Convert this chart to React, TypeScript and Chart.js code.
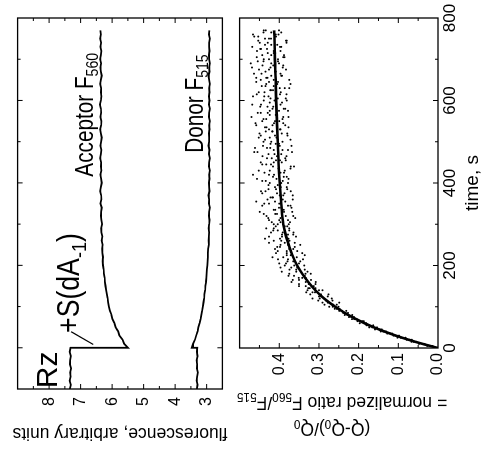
import React, { useEffect, useRef } from "react";
import { Chart, registerables } from "chart.js";

Chart.register(...registerables);

const FONT = "'Liberation Sans', Arial, Helvetica, sans-serif";

// ---------- upper panel: fluorescence traces ----------
const fluorTimes = [
  -100, -90, -80, -70, -60, -50, -40, -30, -20, -10, 0, 0,
  10, 20, 30, 40, 50, 60, 70, 80, 90, 100,
  110, 120, 130, 140, 150, 160, 170, 180, 190, 200,
  210, 220, 230, 240, 250, 260, 270, 280, 290, 300,
  310, 320, 330, 340, 350, 360, 370, 380, 390, 400,
  410, 420, 430, 440, 450, 460, 470, 480, 490, 500,
  510, 520, 530, 540, 550, 560, 570, 580, 590, 600,
  610, 620, 630, 640, 650, 660, 670, 680, 690, 700,
  710, 720, 730, 740, 750, 760, 770,
];
const acceptorValues = [
  7.34, 7.31, 7.35, 7.32, 7.33, 7.3, 7.34, 7.33, 7.31, 7.35, 7.32, 5.5,
  5.62, 5.67, 5.77, 5.81, 5.89, 5.93, 5.99, 6.02, 6.07, 6.1,
  6.13, 6.14, 6.17, 6.19, 6.21, 6.23, 6.24, 6.26, 6.27, 6.29,
  6.3, 6.29, 6.31, 6.32, 6.3, 6.33, 6.31, 6.34, 6.35, 6.32,
  6.34, 6.36, 6.35, 6.33, 6.37, 6.34, 6.35, 6.38, 6.36, 6.33,
  6.35, 6.37, 6.34, 6.36, 6.35, 6.38, 6.36, 6.34, 6.37, 6.35,
  6.33, 6.36, 6.38, 6.35, 6.34, 6.37, 6.35, 6.36, 6.39, 6.36,
  6.34, 6.36, 6.35, 6.38, 6.36, 6.33, 6.36, 6.37, 6.35, 6.38,
  6.36, 6.34, 6.37, 6.35, 6.38, 6.36, 6.37,
];
const donorValues = [
  3.31, 3.29, 3.32, 3.3, 3.28, 3.31, 3.3, 3.32, 3.29, 3.31, 3.3, 3.47,
  3.43, 3.37, 3.33, 3.29, 3.26, 3.22, 3.19, 3.17, 3.14, 3.12,
  3.1, 3.08, 3.07, 3.05, 3.04, 3.02, 3.01, 3.0, 2.99, 2.98,
  2.97, 2.96, 2.96, 2.95, 2.93, 2.94, 2.93, 2.92, 2.94, 2.92,
  2.91, 2.93, 2.92, 2.9, 2.93, 2.92, 2.94, 2.91, 2.92, 2.93,
  2.91, 2.92, 2.9, 2.93, 2.92, 2.9, 2.93, 2.91, 2.94, 2.92,
  2.92, 2.93, 2.91, 2.92, 2.9, 2.93, 2.92, 2.9, 2.93, 2.91,
  2.93, 2.91, 2.92, 2.9, 2.92, 2.94, 2.91, 2.92, 2.9, 2.92,
  2.93, 2.91, 2.92, 2.92, 2.9, 2.93, 2.91,
];
const fluorValueLabels = [3, 4, 5, 6, 7, 8];
const fluorValueMinor = [3.5, 4.5, 5.5, 6.5, 7.5, 8.5];
const fluorTimeMajor = [0, 200, 400, 600];
const fluorTimeMinor = [100, 300, 500, 700];

// ---------- lower panel: normalized ratio ----------
const ratioTimes = [
  0, 5, 10, 15, 20, 25, 30, 35, 40, 45,
  50, 55, 60, 65, 70, 75, 80, 85, 90, 95,
  100, 105, 110, 115, 120, 125, 130, 135, 140, 145,
  150, 155, 160, 165, 170, 175, 180, 185, 190, 195,
  200, 205, 210, 215, 220, 225, 230, 235, 240, 245,
  250, 255, 260, 265, 270, 275, 280, 285, 290, 295,
  300, 305, 310, 315, 320, 325, 330, 335, 340, 345,
  350, 355, 360, 365, 370, 375, 380, 385, 390, 395,
  400, 405, 410, 415, 420, 425, 430, 435, 440, 445,
  450, 455, 460, 465, 470, 475, 480, 485, 490, 495,
  500, 505, 510, 515, 520, 525, 530, 535, 540, 545,
  550, 555, 560, 565, 570, 575, 580, 585, 590, 595,
  600, 605, 610, 615, 620, 625, 630, 635, 640, 645,
  650, 655, 660, 665, 670, 675, 680, 685, 690, 695,
  700, 705, 710, 715, 720, 725, 730, 735, 740, 745,
  750, 755, 760, 765, 770,
];
const ratioA = [
  0.003, 0.014, 0.048, 0.055, 0.079, 0.082, 0.107, 0.128, 0.131, 0.159,
  0.154, 0.176, 0.197, 0.191, 0.205, 0.224, 0.216, 0.239, 0.249, 0.248,
  0.274, 0.255, 0.278, 0.302, 0.268, 0.3, 0.295, 0.332, 0.3, 0.327,
  0.35, 0.309, 0.333, 0.35, 0.333, 0.377, 0.321, 0.357, 0.374, 0.355,
  0.337, 0.383, 0.365, 0.403, 0.356, 0.381, 0.342, 0.404, 0.375, 0.361,
  0.397, 0.426, 0.374, 0.398, 0.358, 0.393, 0.421, 0.375, 0.414, 0.386,
  0.404, 0.373, 0.426, 0.397, 0.384, 0.439, 0.367, 0.41, 0.395, 0.378,
  0.426, 0.458, 0.391, 0.418, 0.366, 0.406, 0.435, 0.38, 0.411, 0.399,
  0.378, 0.443, 0.407, 0.389, 0.426, 0.397, 0.452, 0.372, 0.416, 0.433,
  0.394, 0.408, 0.385, 0.442, 0.427, 0.368, 0.414, 0.461, 0.399, 0.422,
  0.392, 0.436, 0.407, 0.379, 0.45, 0.418, 0.398, 0.432, 0.385, 0.413,
  0.443, 0.392, 0.47, 0.405, 0.429, 0.378, 0.417, 0.448, 0.397, 0.424,
  0.412, 0.384, 0.438, 0.457, 0.396, 0.423, 0.375, 0.414, 0.433, 0.403,
  0.447, 0.43, 0.393, 0.464, 0.411, 0.383, 0.422, 0.442, 0.401, 0.454,
  0.439, 0.39, 0.42, 0.414, 0.397, 0.446, 0.468, 0.405, 0.429, 0.381,
  0.436, 0.453, 0.402, 0.42, 0.439,
];
const ratioB = [
  0.001, 0.027, 0.038, 0.067, 0.066, 0.094, 0.112, 0.115, 0.144, 0.147,
  0.166, 0.163, 0.185, 0.203, 0.217, 0.212, 0.228, 0.227, 0.242, 0.26,
  0.251, 0.286, 0.249, 0.282, 0.298, 0.278, 0.322, 0.31, 0.291, 0.323,
  0.313, 0.35, 0.369, 0.32, 0.351, 0.336, 0.375, 0.329, 0.357, 0.397,
  0.386, 0.35, 0.379, 0.34, 0.417, 0.371, 0.381, 0.355, 0.411, 0.398,
  0.347, 0.386, 0.395, 0.377, 0.426, 0.365, 0.391, 0.415, 0.375, 0.409,
  0.376, 0.419, 0.4, 0.36, 0.432, 0.406, 0.388, 0.414, 0.369, 0.443,
  0.4, 0.385, 0.43, 0.416, 0.39, 0.443, 0.371, 0.408, 0.396, 0.427,
  0.424, 0.391, 0.456, 0.381, 0.413, 0.437, 0.386, 0.402, 0.371, 0.421,
  0.447, 0.398, 0.419, 0.382, 0.412, 0.463, 0.392, 0.431, 0.369, 0.409,
  0.44, 0.403, 0.424, 0.447, 0.38, 0.417, 0.397, 0.436, 0.458, 0.39,
  0.411, 0.433, 0.377, 0.424, 0.454, 0.401, 0.389, 0.43, 0.446, 0.408,
  0.381, 0.422, 0.466, 0.398, 0.437, 0.416, 0.386, 0.444, 0.405, 0.426,
  0.375, 0.458, 0.42, 0.397, 0.435, 0.451, 0.391, 0.415, 0.472, 0.403,
  0.426, 0.387, 0.443, 0.41, 0.456, 0.431, 0.395, 0.42, 0.449, 0.383,
  0.426, 0.463, 0.409, 0.44, 0.401,
];
const ratioC = [
  0.008, 0.021, 0.034, 0.061, 0.071, 0.102, 0.098, 0.12, 0.138, 0.142,
  0.173, 0.18, 0.181, 0.187, 0.211, 0.218, 0.235, 0.233, 0.231, 0.255,
  0.265, 0.264, 0.291, 0.266, 0.316, 0.294, 0.276, 0.316, 0.329, 0.309,
  0.333, 0.326, 0.308, 0.366, 0.342, 0.363, 0.334, 0.394, 0.336, 0.37,
  0.362, 0.4, 0.347, 0.378, 0.39, 0.336, 0.408, 0.381, 0.365, 0.405,
  0.378, 0.361, 0.414, 0.436, 0.393, 0.378, 0.364, 0.404, 0.433, 0.38,
  0.414, 0.397, 0.378, 0.428, 0.365, 0.41, 0.449, 0.389, 0.401, 0.372,
  0.438, 0.411, 0.366, 0.422, 0.399, 0.387, 0.446, 0.427, 0.381, 0.404,
  0.395, 0.434, 0.377, 0.416, 0.466, 0.388, 0.424, 0.401, 0.363, 0.443,
  0.414, 0.384, 0.431, 0.406, 0.395, 0.455, 0.378, 0.423, 0.441, 0.401,
  0.42, 0.372, 0.452, 0.411, 0.394, 0.434, 0.426, 0.377, 0.417, 0.46,
  0.4, 0.44, 0.39, 0.409, 0.447, 0.424, 0.385, 0.415, 0.468, 0.393,
  0.439, 0.404, 0.427, 0.382, 0.452, 0.421, 0.399, 0.435, 0.372, 0.458,
  0.414, 0.433, 0.395, 0.445, 0.409, 0.426, 0.469, 0.39, 0.42, 0.44,
  0.403, 0.457, 0.388, 0.429, 0.414, 0.448, 0.398, 0.436, 0.382, 0.453,
  0.421, 0.408, 0.466, 0.395, 0.434,
];
const fitTimes = [0, 10, 20, 30, 40, 50, 60, 70, 80, 90, 100, 120, 140, 160, 180, 200, 225, 250, 275, 300, 350, 400, 450, 500, 550, 600, 650, 700, 750, 770];
const fitValues = [0, 0.039, 0.074, 0.106, 0.135, 0.161, 0.185, 0.206, 0.226, 0.243, 0.259, 0.287, 0.309, 0.327, 0.342, 0.355, 0.367, 0.376, 0.384, 0.39, 0.395, 0.399, 0.402, 0.404, 0.406, 0.408, 0.409, 0.411, 0.412, 0.413];
const ratioValueLabels = [0, 0.1, 0.2, 0.3, 0.4];
const ratioValueMajor = [0.1, 0.2, 0.3, 0.4];
const ratioValueMinor = [0.05, 0.15, 0.25, 0.35, 0.45];
const ratioTimeLabels = [0, 200, 400, 600, 800];
const ratioTimeMajor = [200, 400, 600];
const ratioTimeMinor = [100, 300, 500, 700];

type Seg = { t: string; sub?: boolean };

function drawRich(
  ctx: CanvasRenderingContext2D,
  segs: Seg[],
  x: number,
  y: number,
  size: number,
  align: "left" | "center",
  rotate: boolean,
  scaleX = 1
) {
  ctx.save();
  ctx.translate(x, y);
  if (rotate) ctx.rotate(-Math.PI / 2);
  ctx.scale(scaleX, 1);
  const subSize = size * 0.68;
  let w = 0;
  for (const s of segs) {
    ctx.font = `${s.sub ? subSize : size}px ${FONT}`;
    w += ctx.measureText(s.t).width;
  }
  let cx = align === "center" ? -w / 2 : 0;
  ctx.fillStyle = "#000";
  ctx.textAlign = "left";
  ctx.textBaseline = "alphabetic";
  for (const s of segs) {
    ctx.font = `${s.sub ? subSize : size}px ${FONT}`;
    ctx.fillText(s.t, cx, s.sub ? size * 0.2 : 0);
    cx += ctx.measureText(s.t).width;
  }
  ctx.restore();
}

function frameTicks(xMajor: number[], xMinor: number[], yMajor: number[], yMinor: number[]) {
  return {
    id: "frameTicks",
    afterDatasetsDraw(chart: any) {
      const { ctx, chartArea: a, scales } = chart;
      ctx.save();
      ctx.strokeStyle = "#000";
      ctx.lineWidth = 1.3;
      ctx.strokeRect(a.left, a.top, a.right - a.left, a.bottom - a.top);
      ctx.lineWidth = 1;
      const seg = (x1: number, y1: number, x2: number, y2: number) => {
        ctx.beginPath();
        ctx.moveTo(x1, y1);
        ctx.lineTo(x2, y2);
        ctx.stroke();
      };
      const xt = (vals: number[], len: number) =>
        vals.forEach((v) => {
          const p = scales.x.getPixelForValue(v);
          seg(p, a.bottom, p, a.bottom - len);
          seg(p, a.top, p, a.top + len);
        });
      const yt = (vals: number[], len: number) =>
        vals.forEach((v) => {
          const p = scales.y.getPixelForValue(v);
          seg(a.left, p, a.left + len, p);
          seg(a.right, p, a.right - len, p);
        });
      xt(xMajor, 5);
      xt(xMinor, 3);
      yt(yMajor, 5);
      yt(yMinor, 3);
      ctx.restore();
    },
  };
}

const fluorNotes = {
  id: "fluorNotes",
  afterDatasetsDraw(chart: any) {
    const { ctx, scales } = chart;
    const X = (v: number) => scales.x.getPixelForValue(v);
    const Y = (v: number) => scales.y.getPixelForValue(v);
    drawRich(ctx, [{ t: "Rz" }], X(-98), Y(7.74), 30, "left", false);
    drawRich(ctx, [{ t: "+S(dA" }, { t: "-1", sub: true }, { t: ")" }], X(36), Y(7.04), 31, "left", false, 0.86);
    ctx.save();
    ctx.strokeStyle = "#000";
    ctx.lineWidth = 1.2;
    ctx.beginPath();
    ctx.moveTo(X(39), Y(7.3));
    ctx.lineTo(X(8), Y(6.6));
    ctx.stroke();
    ctx.restore();
    drawRich(ctx, [{ t: "Acceptor F" }, { t: "560", sub: true }], X(415), Y(6.62), 25, "left", false, 0.83);
    drawRich(ctx, [{ t: "Donor F" }, { t: "515", sub: true }], X(473), Y(3.12), 25, "left", false, 0.83);
  },
};

const ratioTitle = {
  id: "ratioTitle",
  afterDraw(chart: any) {
    const { ctx } = chart;
    drawRich(ctx, [{ t: "(Q-Q" }, { t: "0", sub: true }, { t: ")/Q" }, { t: "0", sub: true }], 26.5, 107, 17.5, "center", true);
    drawRich(
      ctx,
      [{ t: "= normalized ratio F" }, { t: "560", sub: true }, { t: "/F" }, { t: "515", sub: true }],
      53,
      117,
      17.5,
      "center",
      true
    );
  },
};

export default function App() {
  const topRef = useRef<HTMLCanvasElement | null>(null);
  const botRef = useRef<HTMLCanvasElement | null>(null);

  useEffect(() => {
    const tickFont = { family: FONT, size: 16 };
    const dots = (vals: number[]) => ({
      data: ratioTimes.map((t, i) => ({ x: t, y: vals[i] })),
      pointRadius: 1,
      pointBackgroundColor: "#000",
      pointBorderWidth: 0,
    });
    const c1 = new Chart(topRef.current as HTMLCanvasElement, {
      type: "scatter",
      data: {
        datasets: [
          {
            data: fluorTimes.map((t, i) => ({ x: t, y: acceptorValues[i] })),
            showLine: true,
            borderColor: "#000",
            borderWidth: 1.8,
            pointRadius: 0,
          },
          {
            data: fluorTimes.map((t, i) => ({ x: t, y: donorValues[i] })),
            showLine: true,
            borderColor: "#000",
            borderWidth: 1.8,
            pointRadius: 0,
          },
        ],
      },
      options: {
        animation: false,
        responsive: false,
        events: [],
        layout: { padding: { top: 14, right: 18, left: 0, bottom: 0 } },
        plugins: { legend: { display: false }, tooltip: { enabled: false } },
        scales: {
          x: {
            type: "linear",
            min: -100,
            max: 800,
            ticks: { display: false },
            grid: { display: false, drawTicks: false },
            border: { display: false },
            afterFit: (s: any) => {
              s.height = 14;
            },
          },
          y: {
            type: "linear",
            min: 2.5,
            max: 9,
            afterBuildTicks: (s: any) => {
              s.ticks = fluorValueLabels.map((v) => ({ value: v }));
            },
            ticks: {
              padding: 8,
              color: "#000",
              font: tickFont,
              callback: (v: any) => String(v),
            },
            grid: { display: false, drawTicks: false },
            border: { display: false },
            title: {
              display: true,
              text: "fluorescence, arbitrary units",
              color: "#000",
              font: { family: FONT, size: 17.5 },
              padding: { top: 7, bottom: 0 },
            },
            afterFit: (s: any) => {
              s.width = 61;
            },
          },
        },
      },
      plugins: [frameTicks(fluorTimeMajor, fluorTimeMinor, fluorValueLabels, fluorValueMinor), fluorNotes],
    } as any);

    const c2 = new Chart(botRef.current as HTMLCanvasElement, {
      type: "scatter",
      data: {
        datasets: [
          dots(ratioA),
          dots(ratioB),
          dots(ratioC),
          {
            data: fitTimes.map((t, i) => ({ x: t, y: fitValues[i] })),
            showLine: true,
            borderColor: "#000",
            borderWidth: 2.6,
            pointRadius: 0,
            cubicInterpolationMode: "monotone",
          },
        ],
      },
      options: {
        animation: false,
        responsive: false,
        events: [],
        layout: { padding: { top: 1, right: 18, left: 0, bottom: 0 } },
        plugins: { legend: { display: false }, tooltip: { enabled: false } },
        scales: {
          x: {
            type: "linear",
            min: 0,
            max: 800,
            ticks: {
              stepSize: 200,
              padding: 2,
              maxRotation: 0,
              autoSkip: false,
              color: "#000",
              font: { family: FONT, size: 17 },
              callback: (v: any) => (ratioTimeLabels.includes(Number(v)) ? String(v) : null),
            },
            grid: { display: false, drawTicks: false },
            border: { display: false },
            title: {
              display: true,
              text: "time, s",
              color: "#000",
              font: { family: FONT, size: 19 },
              padding: { top: 0, bottom: 1 },
            },
            afterFit: (s: any) => {
              s.height = 47;
            },
          },
          y: {
            type: "linear",
            min: 0,
            max: 0.5,
            ticks: {
              stepSize: 0.1,
              padding: 5,
              color: "#000",
              font: tickFont,
              callback: (v: any) => {
                const m = ratioValueLabels.find((l) => Math.abs(l - Number(v)) < 1e-6);
                return m === undefined ? null : m.toFixed(1);
              },
            },
            grid: { display: false, drawTicks: false },
            border: { display: false },
            afterFit: (s: any) => {
              s.width = 102;
            },
          },
        },
      },
      plugins: [frameTicks(ratioTimeMajor, ratioTimeMinor, ratioValueMajor, ratioValueMinor), ratioTitle],
    } as any);

    return () => {
      c1.destroy();
      c2.destroy();
    };
  }, []);

  return (
    <div
      style={{
        position: "absolute",
        left: 0,
        top: 0,
        width: 450,
        height: 485,
        background: "#fff",
        transformOrigin: "0 0",
        transform: "translateY(450px) rotate(-90deg)",
      }}
    >
      <canvas ref={topRef} width={450} height={240} style={{ position: "absolute", left: 0, top: 0 }} />
      <canvas ref={botRef} width={450} height={260} style={{ position: "absolute", left: 0, top: 225 }} />
    </div>
  );
}
